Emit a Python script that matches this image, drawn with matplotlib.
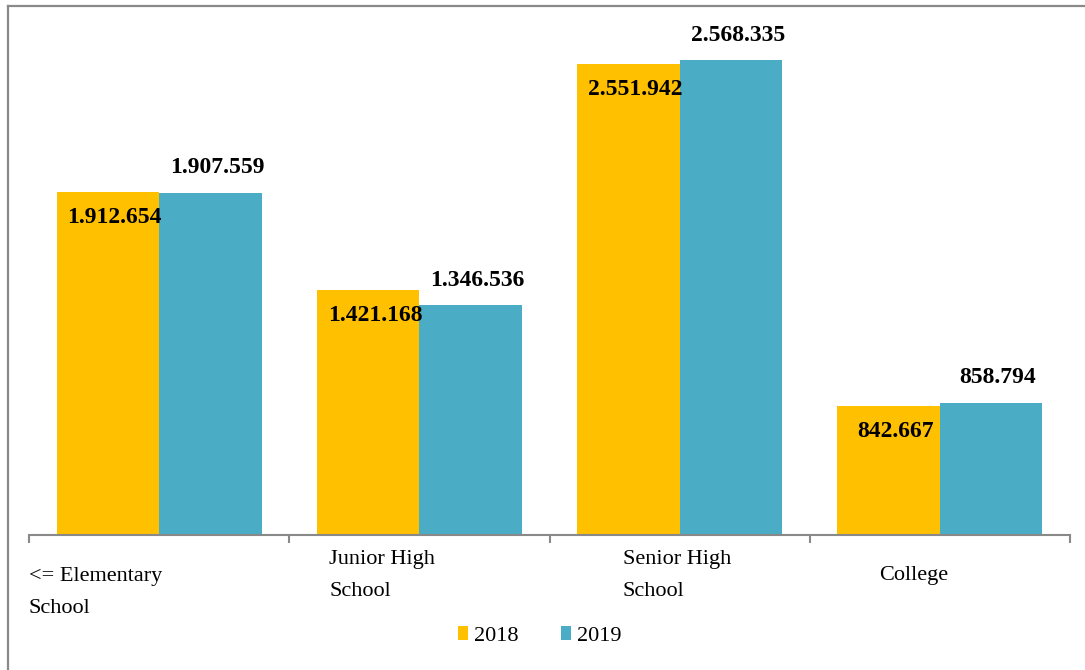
import matplotlib.pyplot as plt
from matplotlib.lines import Line2D
import numpy as np

categories = ["<= Elementary\nSchool", "Junior High\nSchool", "Senior High\nSchool", "College"]
series_names = ["2018", "2019"]
values_2018 = [1912654, 1421168, 2551942, 842667]
values_2019 = [1907559, 1346536, 2568335, 858794]
labels_2018 = ["1.912.654", "1.421.168", "2.551.942", "842.667"]
labels_2019 = ["1.907.559", "1.346.536", "2.568.335", "858.794"]

YELLOW = "#FFC000"
TEAL = "#4BACC6"
GRAY = "#898989"

plt.rcParams['font.family'] = ['Liberation Serif', 'DejaVu Serif']

fig = plt.figure(figsize=(10.85, 6.7), dpi=100)
ax = fig.add_axes([29 / 1085, 1 - 535 / 670, 1041 / 1085, 521 / 670])

x = np.arange(len(categories))
w = 0.394
b1 = ax.bar(x - w / 2, values_2018, w, color=YELLOW, label=series_names[0])
b2 = ax.bar(x + w / 2, values_2019, w, color=TEAL, label=series_names[1])

ax.set_xlim(-0.5, len(categories) - 0.5)
ax.set_ylim(200000, 2800000)

for rect, lab in zip(b1, labels_2018):
    ax.annotate(lab, (rect.get_x() + rect.get_width() / 2, rect.get_height()),
                xytext=(5, -18.5), textcoords="offset points",
                ha="center", va="center", fontsize=17, fontweight="bold")
for rect, lab in zip(b2, labels_2019):
    ax.annotate(lab, (rect.get_x() + rect.get_width() / 2, rect.get_height()),
                xytext=(5, 18), textcoords="offset points",
                ha="center", va="center", fontsize=17, fontweight="bold")

# category labels, placed the way the original does it
label_pos = [(-0.5, "left", 41.5), (0.654, "left", 29), (1.781, "left", 29), (2.9, "center", 29)]
for cat, (lx, ha, dy) in zip(categories, label_pos):
    ax.annotate(cat, (lx, 0), xycoords=("data", "axes fraction"),
                xytext=(0, -dy), textcoords="offset points",
                ha=ha, va="center", fontsize=16, linespacing=1.9)

for s in ["top", "left", "right"]:
    ax.spines[s].set_visible(False)
ax.spines["bottom"].set_color(GRAY)
ax.spines["bottom"].set_linewidth(1.5)
ax.set_yticks([])
ax.set_xticks([])
ax.set_xticks(np.arange(-0.5, len(categories)), minor=True)
ax.tick_params(axis="x", which="minor", length=5.8, width=1.5, color=GRAY,
               direction="out", labelbottom=False)

fig.legend(loc="center", bbox_to_anchor=(540 / 1085, 1 - 636 / 670), ncol=2,
           frameon=False, fontsize=16, handlelength=0.45, handleheight=0.6,
           handletextpad=0.28, columnspacing=1.9, borderpad=0)

# outer frame (only top and left edges are inside the image)
fig.add_artist(Line2D([8 / 1085, 8 / 1085], [0, 1 - 6 / 670], color=GRAY, lw=1.6))
fig.add_artist(Line2D([8 / 1085, 1], [1 - 6 / 670, 1 - 6 / 670], color=GRAY, lw=1.6))

fig.savefig("out.png", dpi=100)
